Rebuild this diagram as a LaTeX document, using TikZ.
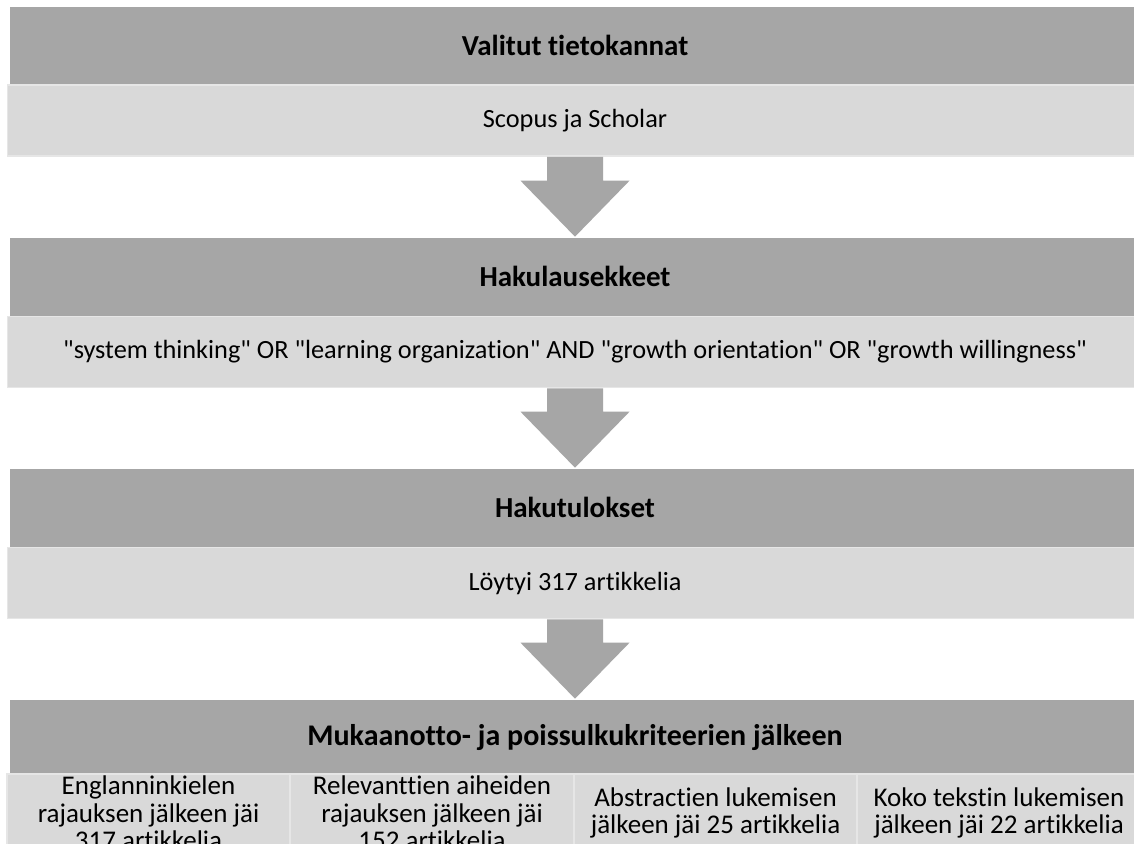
\documentclass[tikz,border=0pt]{standalone}
\usepackage{fontspec}
\newfontfamily\calfont{Carlito}[Ligatures=NoCommon]
\usetikzlibrary{calc}
\definecolor{darkg}{HTML}{A6A6A6}
\definecolor{lightg}{HTML}{D9D9D9}
\definecolor{edgeg}{HTML}{E6E6E6}
\begin{document}
\begin{tikzpicture}[x=1pt,y=-1pt,
  head/.style={fill=darkg, draw=white, line width=0.6pt, minimum width=1132pt, minimum height=79pt, inner sep=0pt, font=\calfont\fontsize{29}{31}\selectfont\bfseries},
  body/.style={fill=lightg, draw=edgeg, line width=1.5pt, minimum width=1135pt, minimum height=71pt, inner sep=0pt, font=\calfont\fontsize{26.3}{28}\selectfont},
  sub/.style={fill=lightg, draw=edgeg, line width=1.5pt, minimum width=283pt, minimum height=78pt, inner sep=0pt, align=center, font=\calfont\fontsize{27}{27.5}\selectfont},
  blockarrow/.style={fill=darkg}]
\clip (0,0) rectangle (1134,843);
\fill[white] (0,0) rectangle (1134,843);
% sections
\node[head] (h1) at (575,45.5) {Valitut tietokannat};
\node[body] (b1) at (575,120.5) {Scopus ja Scholar};
\node[head] (h2) at (575,276.5) {Hakulausekkeet};
\node[body] (b2) at (575,352) {"system thinking" OR "learning organization" AND "growth orientation" OR "growth willingness"};
\node[head] (h3) at (575,507.5) {Hakutulokset};
\node[body] (b3) at (575,583) {Löytyi 317 artikkelia};
\node[head, minimum height=76pt, font=\calfont\fontsize{30}{32}\selectfont\bfseries] (h4) at (575,737) {Mukaanotto- ja poissulkukriteerien jälkeen};
\node[sub] (s1) at (148.5,813) {Englanninkielen\\rajauksen jälkeen jäi\\317 artikkelia};
\node[sub] (s2) at (432,813) {Relevanttien aiheiden\\rajauksen jälkeen jäi\\152 artikkelia};
\node[sub] (s3) at (715.5,813) {Abstractien lukemisen\\jälkeen jäi 25 artikkelia};
\node[sub] (s4) at (999,813) {Koko tekstin lukemisen\\jälkeen jäi 22 artikkelia};
% block arrows
\foreach \a/\b in {b1/h2, b2/h3, b3/h4}{
  \fill[blockarrow] ($(\a.south)+(-28,0)$) -- ($(\a.south)+(28,0)$) -- ($(\b.north)+(28,-56)$) -- ($(\b.north)+(54.5,-56)$) -- (\b.north) -- ($(\b.north)+(-54.5,-56)$) -- ($(\b.north)+(-28,-56)$) -- cycle;
}
\end{tikzpicture}
\end{document}
